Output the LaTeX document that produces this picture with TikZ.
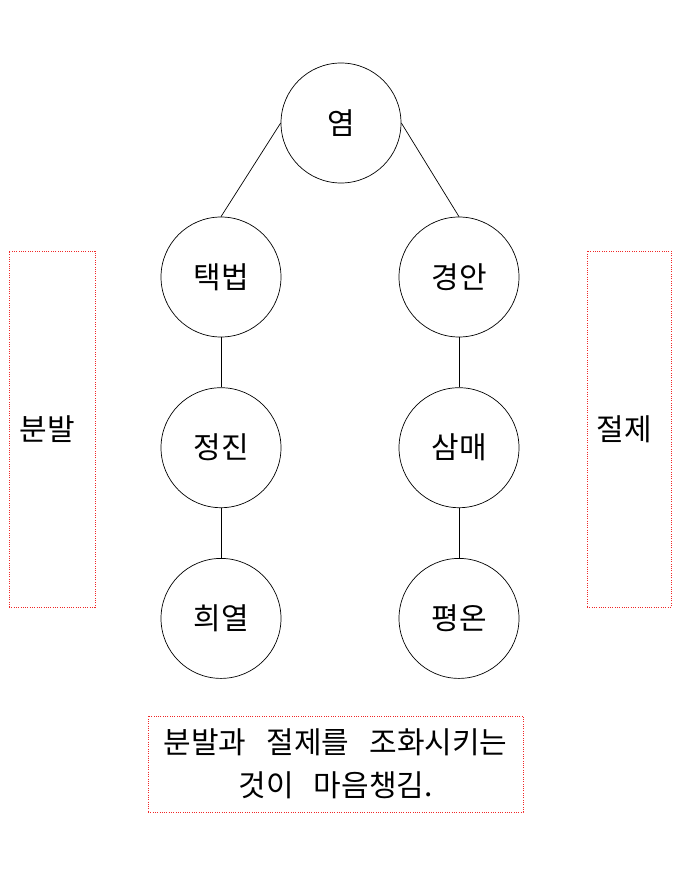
\documentclass[tikz,border=0pt]{standalone}
\usepackage{fontspec}
\setmainfont{Noto Sans CJK KR}[WordSpace=3]
\usetikzlibrary{positioning}
\definecolor{boxred}{HTML}{F02828}

\begin{document}
\begin{tikzpicture}[
    x=1pt, y=-1pt,
    node distance=50pt,
    stage/.style={draw, circle, minimum size=120pt, inner sep=0pt,
                  line width=0.7pt, font=\fontsize{30}{32}\selectfont},
    frame/.style={draw=boxred, dash pattern=on 1pt off 1.3pt, line width=1pt,
                  inner sep=0pt, align=center, font=\fontsize{30}{43}\selectfont},
    link/.style={line width=0.7pt}
]
\useasboundingbox (0,0) rectangle (687,886);

% tree of stages
\node[stage] (yeom) at (341,123) {염};
\node[stage] (taek) at (221,277) {택법};
\node[stage] (gyeong) at (459,277) {경안};
\node[stage, below=of taek] (jeong) {정진};
\node[stage, below=of jeong] (hui) {희열};
\node[stage, below=of gyeong] (sam) {삼매};
\node[stage, below=of sam] (pyeong) {평온};

\draw[link] (yeom.west) -- (taek.north);
\draw[link] (yeom.east) -- (gyeong.north);
\draw[link] (taek) -- (jeong);
\draw[link] (jeong) -- (hui);
\draw[link] (gyeong) -- (sam);
\draw[link] (sam) -- (pyeong);

% side frames
\node[frame, minimum width=86pt, minimum height=356pt] (bunbal) at (52,429) {\hspace*{-10pt}분발};
\node[frame, minimum width=84pt, minimum height=356pt] (jeolje) at (629,429) {\hspace*{-10pt}절제};

% note
\node[frame, minimum width=375pt, minimum height=96pt] (note) at (335.5,764)
    {분발과 절제를 조화시키는\\것이 마음챙김.};
\end{tikzpicture}
\end{document}
